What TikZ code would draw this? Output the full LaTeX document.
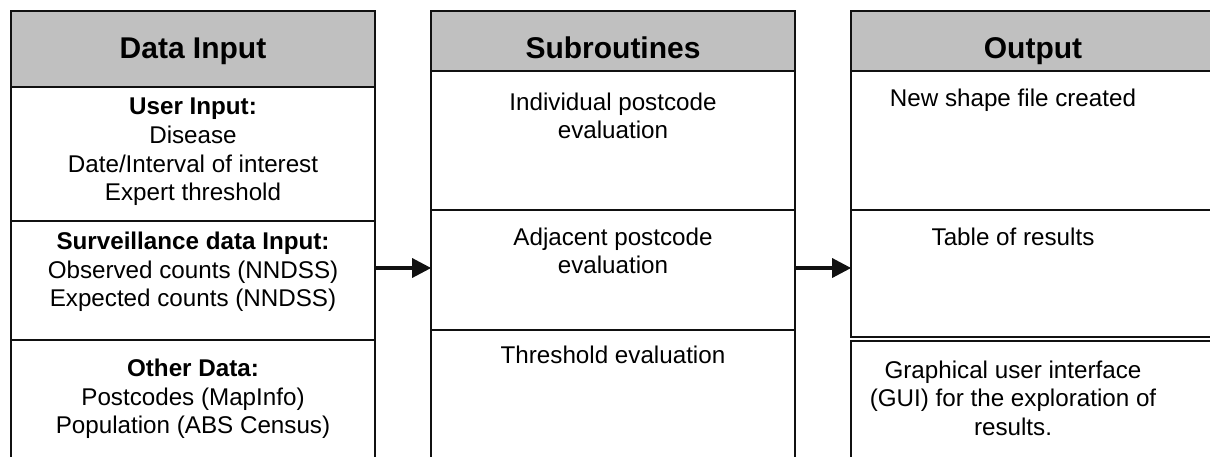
\documentclass[tikz,border=0pt]{standalone}
\usepackage{fontspec}
\setmainfont{Liberation Sans}
\usetikzlibrary{arrows.meta}
\definecolor{hdrgray}{HTML}{C0C0C0}
\definecolor{ink}{HTML}{111111}
\tikzset{
  box/.style={draw=ink, line width=1.7pt, inner sep=0pt},
  hdr/.style={box, fill=hdrgray},
  hdrtext/.style={font=\fontsize{30}{34}\selectfont\bfseries, inner sep=0pt, anchor=base},
  body/.style={font=\fontsize{24.2}{28.6}\selectfont, align=center, inner sep=0pt},
  flow/.style={draw=ink, line width=3.4pt, -{Triangle[length=19pt,width=19pt]}, shorten >=-1pt}
}
\begin{document}
\begin{tikzpicture}[x=1pt,y=-1pt]
\useasboundingbox (0,0) rectangle (1210,456);
\clip (0,0) rectangle (1210,456);
% Left column
\node[box, minimum width=364pt, minimum height=134pt] (L1) at (193,154) {};
\node[box, minimum width=364pt, minimum height=119pt] (L2) at (193,280.5) {};
\node[box, minimum width=364pt, minimum height=140pt] (L3) at (193,410) {};
\node[hdr, minimum width=364pt, minimum height=76pt] (LH) at (193,49) {};
\node[hdrtext] (LHt) at (193,58) {Data Input};
\node[body] (L1t) at (193,152) {\textbf{User Input:}\\Disease\\Date/Interval of interest\\Expert threshold};
\node[body] (L2t) at (193,272) {\textbf{Surveillance data Input:}\\Observed counts (NNDSS)\\Expected counts (NNDSS)};
\node[body] (L3t) at (193,399) {\textbf{Other Data:}\\Postcodes (MapInfo)\\Population (ABS Census)};
% Middle column
\node[box, minimum width=364pt, minimum height=139pt] (M1) at (613,140.5) {};
\node[box, minimum width=364pt, minimum height=120pt] (M2) at (613,270) {};
\node[box, minimum width=364pt, minimum height=140pt] (M3) at (613,400) {};
\node[hdr, minimum width=364pt, minimum height=60pt] (MH) at (613,41) {};
\node[hdrtext] (MHt) at (613,58) {Subroutines};
\node[body] (M1t) at (613,116) {Individual postcode\\evaluation};
\node[body] (M2t) at (613,251) {Adjacent postcode\\evaluation};
\node[body] (M3t) at (613,355) {Threshold evaluation};
% Right column
\node[box, minimum width=364pt, minimum height=139pt] (R1) at (1033,140.5) {};
\node[box, minimum width=364pt, minimum height=127pt] (R2) at (1033,273.5) {};
\node[box, minimum width=364pt, minimum height=130pt] (R3) at (1033,406) {};
\node[hdr, minimum width=364pt, minimum height=60pt] (RH) at (1033,41) {};
\node[hdrtext] (RHt) at (1033,58) {Output};
\node[body] (R1t) at (1013,100) {New shape file created};
\node[body] (R2t) at (1013,237) {Table of results};
\node[body] (R3t) at (1013,398) {Graphical user interface\\(GUI) for the exploration of\\results.};
% Arrows
\coordinate (a1) at (376,268);
\coordinate (a2) at (796,268);
\draw[flow] (a1) -- (a1 -| M2.west);
\draw[flow] (a2) -- (a2 -| R2.west);
\end{tikzpicture}
\end{document}
